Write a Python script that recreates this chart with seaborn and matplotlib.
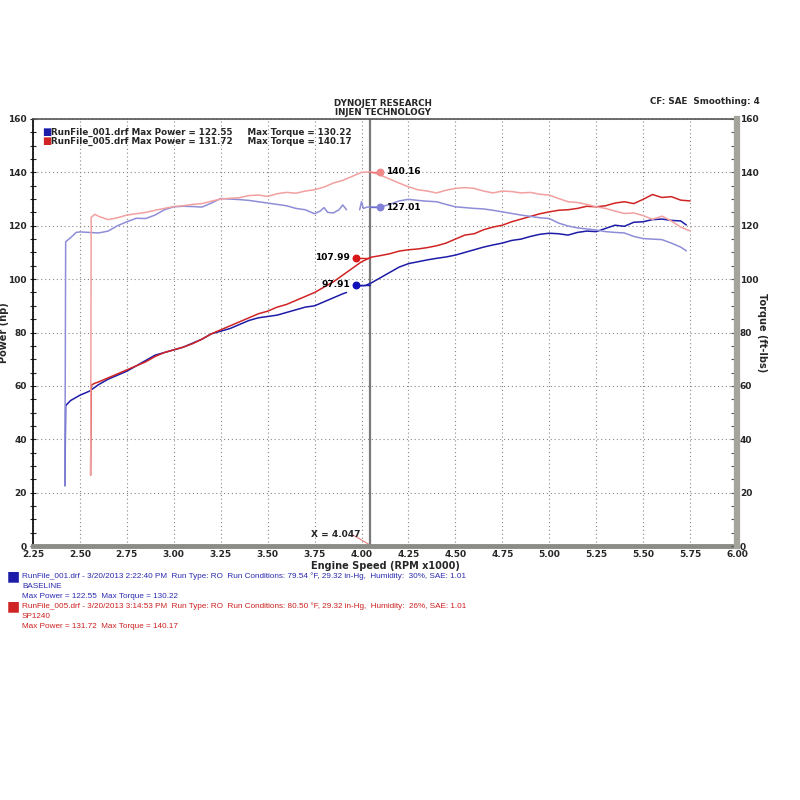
import pandas as pd
import numpy as np
import matplotlib.pyplot as plt
from matplotlib import font_manager
from matplotlib.ticker import MultipleLocator
import seaborn as sns

# ----------------------------------------------
# Dyno run data
# ----------------------------------------------
runs = ["RunFile_001.drf", "RunFile_005.drf"]

# Baseline power (two pieces, broken near the cursor)
base_power_rpm_a = [2.420, 2.424, 2.45, 2.50, 2.55, 2.60, 2.65, 2.70, 2.75, 2.80, 2.85, 2.90, 2.95,
                    3.00, 3.05, 3.10, 3.15, 3.20, 3.25, 3.30, 3.35, 3.40, 3.45, 3.50, 3.55, 3.60,
                    3.65, 3.70, 3.75, 3.80, 3.85, 3.90, 3.92]
base_power_hp_a = [22.6, 52.6, 54.5, 56.5, 58.0, 60.5, 62.5, 64.0, 65.5, 67.5, 69.5, 71.5, 72.5,
                   73.5, 74.5, 76.0, 77.5, 79.5, 80.5, 81.5, 83.0, 84.5, 85.5, 86.0, 86.5, 87.5,
                   88.5, 89.5, 90.0, 91.5, 93.0, 94.5, 95.0]
base_power_rpm_b = [3.99, 4.02, 4.05, 4.10, 4.15, 4.20, 4.25, 4.30, 4.35, 4.40, 4.45, 4.50, 4.55,
                    4.60, 4.65, 4.70, 4.75, 4.80, 4.85, 4.90, 4.95, 5.00, 5.05, 5.10, 5.15, 5.20,
                    5.25, 5.30, 5.35, 5.40, 5.45, 5.50, 5.55, 5.60, 5.65, 5.70, 5.73]
base_power_hp_b = [97.5, 97.6, 98.5, 100.5, 102.5, 104.5, 105.8, 106.5, 107.2, 107.8, 108.3, 109.0,
                   110.0, 111.0, 112.0, 112.8, 113.5, 114.5, 115.0, 116.0, 116.8, 117.2, 117.0,
                   116.5, 117.5, 118.0, 117.8, 119.0, 120.2, 119.8, 121.3, 121.5, 122.3, 122.5,
                   122.0, 121.8, 120.3]

# Baseline torque
base_torque_rpm_a = [2.420, 2.424, 2.45, 2.48, 2.50, 2.55, 2.60, 2.65, 2.70, 2.75, 2.80, 2.85, 2.90,
                     2.95, 3.00, 3.05, 3.10, 3.15, 3.20, 3.25, 3.30, 3.35, 3.40, 3.45, 3.50, 3.55,
                     3.60, 3.65, 3.70, 3.75, 3.78, 3.80, 3.82, 3.85, 3.88, 3.90, 3.92]
base_torque_a = [22.6, 114.0, 115.5, 117.5, 117.7, 117.5, 117.3, 118.0, 120.0, 121.5, 122.8, 122.7,
                 124.0, 126.0, 127.1, 127.3, 127.2, 127.0, 128.5, 130.2, 130.0, 129.8, 129.5, 129.0,
                 128.5, 128.0, 127.5, 126.5, 126.0, 124.5, 125.5, 126.8, 125.0, 124.8, 126.0,
                 127.8, 126.0]
base_torque_rpm_b = [3.99, 4.00, 4.01, 4.03, 4.10, 4.15, 4.20, 4.25, 4.30, 4.35, 4.40, 4.45, 4.50,
                     4.55, 4.60, 4.65, 4.70, 4.75, 4.80, 4.85, 4.90, 4.95, 5.00, 5.05, 5.10, 5.15,
                     5.20, 5.25, 5.30, 5.35, 5.40, 5.45, 5.50, 5.55, 5.60, 5.65, 5.70, 5.73]
base_torque_b = [126.0, 129.0, 126.5, 127.0, 127.0, 128.0, 129.3, 129.9, 129.5, 129.2, 129.0, 128.0,
                 127.1, 126.8, 126.5, 126.3, 125.8, 125.2, 124.6, 124.0, 123.5, 123.0, 122.7, 121.0,
                 119.9, 119.2, 118.8, 118.4, 117.8, 117.5, 117.3, 116.0, 115.2, 115.0, 114.8,
                 113.5, 112.0, 110.6]

# SP1240 run
sp_rpm = [2.557, 2.560, 2.58, 2.60, 2.65, 2.70, 2.75, 2.80, 2.85, 2.90, 2.95, 3.00, 3.05, 3.10,
          3.15, 3.20, 3.25, 3.30, 3.35, 3.40, 3.45, 3.50, 3.55, 3.60, 3.65, 3.70, 3.75, 3.80,
          3.85, 3.90, 3.95, 4.00, 4.05, 4.10, 4.15, 4.20, 4.25, 4.30, 4.35, 4.40, 4.45, 4.50,
          4.55, 4.60, 4.65, 4.70, 4.75, 4.80, 4.85, 4.90, 4.95, 5.00, 5.05, 5.10, 5.15, 5.20,
          5.25, 5.30, 5.35, 5.40, 5.45, 5.50, 5.55, 5.60, 5.65, 5.70, 5.75]
sp_power = [26.6, 60.3, 61.0, 61.5, 63.0, 64.5, 66.0, 67.5, 69.0, 71.0, 72.5, 73.5, 74.5, 75.8,
            77.5, 79.5, 81.0, 82.5, 84.0, 85.5, 87.0, 88.0, 89.5, 90.5, 92.0, 93.5, 95.0, 97.0,
            99.0, 101.5, 104.0, 106.5, 108.2, 108.8, 109.5, 110.5, 111.0, 111.3, 111.8, 112.5,
            113.5, 115.0, 116.5, 117.0, 118.5, 119.5, 120.2, 121.5, 122.5, 123.5, 124.5, 125.2,
            125.8, 126.0, 126.5, 127.3, 127.1, 127.5, 128.5, 129.0, 128.3, 129.9, 131.7, 130.6,
            130.9, 129.6, 129.3]
sp_torque = [26.6, 123.2, 124.3, 123.5, 122.3, 123.0, 124.0, 124.5, 125.0, 125.8, 126.5, 127.2,
             127.5, 128.0, 128.3, 129.2, 130.0, 130.3, 130.5, 131.3, 131.5, 131.0, 132.0, 132.5,
             132.2, 133.0, 133.5, 134.5, 136.0, 137.0, 138.5, 140.0, 140.2, 139.0, 137.5, 136.0,
             134.6, 133.5, 133.0, 132.3, 133.3, 134.0, 134.3, 134.0, 133.0, 132.3, 133.0, 132.8,
             132.3, 132.5, 131.8, 131.5, 130.2, 129.0, 128.7, 128.0, 127.1, 126.5, 125.5, 124.6,
             124.8, 123.8, 122.4, 123.6, 121.8, 119.5, 118.1]

# cursor readouts
cursor_x = 4.047
power_marks = [97.91, 107.99]
torque_marks = [127.01, 140.16]

# ----------------------------------------------
# Build long tables
# ----------------------------------------------
power_df = pd.concat([
    pd.DataFrame({"rpm": base_power_rpm_a, "val": base_power_hp_a, "run": runs[0], "seg": 0}),
    pd.DataFrame({"rpm": base_power_rpm_b, "val": base_power_hp_b, "run": runs[0], "seg": 1}),
    pd.DataFrame({"rpm": sp_rpm, "val": sp_power, "run": runs[1], "seg": 2}),
])
torque_df = pd.concat([
    pd.DataFrame({"rpm": base_torque_rpm_a, "val": base_torque_a, "run": runs[0], "seg": 0}),
    pd.DataFrame({"rpm": base_torque_rpm_b, "val": base_torque_b, "run": runs[0], "seg": 1}),
    pd.DataFrame({"rpm": sp_rpm, "val": sp_torque, "run": runs[1], "seg": 2}),
])

BLUE = "#1c1ca8"
RED = "#d02424"
LBLUE = "#8e8ed8"
LRED = "#f2a0a0"

sns.set_style("white")
plt.rcParams["font.family"] = ["DejaVu Sans"]

# narrow face for the run details, if it is there
names = {f.name for f in font_manager.fontManager.ttflist}
if "Liberation Sans Narrow" in names:
    info_font, info_size = "Liberation Sans Narrow", 7.0
else:
    info_font, info_size = "Liberation Sans", 5.9

fig = plt.figure(figsize=(8, 8), dpi=100)
ax = fig.add_axes([0.04125, 0.3175, 0.88, 0.53375])
ax2 = ax.twinx()

sns.lineplot(data=power_df, x="rpm", y="val", hue="run", units="seg", estimator=None,
             sort=False, palette={runs[0]: BLUE, runs[1]: RED}, lw=1.1, legend=False, ax=ax)
sns.lineplot(data=torque_df, x="rpm", y="val", hue="run", units="seg", estimator=None,
             sort=False, palette={runs[0]: LBLUE, runs[1]: LRED}, lw=1.1, legend=False, ax=ax2)

for a in (ax, ax2):
    a.set_xlim(2.25, 6.0)
    a.set_ylim(0, 160)

# cursor
ax.axvline(cursor_x, color="#7a7a7a", lw=1.6, zorder=1)
ax.plot([3.97, cursor_x], [power_marks[0], power_marks[0]], color=BLUE, lw=1)
ax.plot([3.97, cursor_x], [power_marks[1], power_marks[1]], color=RED, lw=1)
ax.scatter([3.97], [power_marks[0]], color="#1010b8", s=22, zorder=5)
ax.scatter([3.97], [power_marks[1]], color="#d81818", s=22, zorder=5)
ax2.plot([cursor_x, 4.10], [torque_marks[0], torque_marks[0]], color="#6a6ad0", lw=1)
ax2.plot([cursor_x, 4.10], [torque_marks[1], torque_marks[1]], color="#f07070", lw=1)
ax2.scatter([4.10], [torque_marks[0]], color="#8080d8", s=22, zorder=5)
ax2.scatter([4.10], [torque_marks[1]], color="#f08a8a", s=22, zorder=5)
lab = dict(fontsize=6.5, fontweight="bold", color="black", va="center")
ax.text(3.94, power_marks[0], f"{power_marks[0]:.2f}", ha="right", **lab)
ax.text(3.94, power_marks[1], f"{power_marks[1]:.2f}", ha="right", **lab)
ax2.text(4.13, torque_marks[0], f"{torque_marks[0]:.2f}", ha="left", **lab)
ax2.text(4.13, torque_marks[1], f"{torque_marks[1]:.2f}", ha="left", **lab)
ax.text(3.995, 3.3, f"X = {cursor_x:.3f}", ha="right", fontsize=6.5, fontweight="bold")
ax.plot([3.95, cursor_x], [4.3, 0.3], color="#e07070", lw=0.7)

# axes styling
ax.xaxis.set_minor_locator(MultipleLocator(0.05))
ax.yaxis.set_major_locator(MultipleLocator(20))
ax.yaxis.set_minor_locator(MultipleLocator(5))
ax2.yaxis.set_major_locator(MultipleLocator(20))
ax2.yaxis.set_minor_locator(MultipleLocator(5))
ax.set_xticks(np.arange(2.25, 6.01, 0.25))
ax.set_xticklabels([f"{v:.2f}" for v in np.arange(2.25, 6.01, 0.25)])
ax.grid(True, which="major", ls=(0, (1, 2.5)), color="#888888", lw=0.8)
ax.tick_params(axis="x", which="both", direction="in", length=4, width=0.8, color="#555555",
               labelsize=6.5, pad=3)
ax.tick_params(axis="y", which="both", direction="inout", length=5, width=0.8,
               labelsize=6.5, pad=2)
ax2.tick_params(axis="y", which="both", direction="in", length=4, width=0.8, color="#555555",
                labelsize=6.5, pad=2)
for t in ax.get_xticklabels() + ax.get_yticklabels() + ax2.get_yticklabels():
    t.set_fontweight("bold")

ax.spines["left"].set_color("black")
ax.spines["left"].set_linewidth(1.2)
ax.spines["top"].set_color("#555555")
ax.spines["top"].set_linewidth(1.2)
ax.spines["bottom"].set_color("#8c8c86")
ax.spines["bottom"].set_linewidth(3.5)
ax2.spines["right"].set_color("#a4a49c")
ax2.spines["right"].set_linewidth(4.5)
for s in ("left", "top", "bottom"):
    ax2.spines[s].set_visible(False)
ax.spines["right"].set_visible(False)

ax.set_xlabel("Engine Speed (RPM x1000)", fontsize=7, fontweight="bold")
ax.xaxis.set_label_coords(0.5, -0.035)
ax.set_ylabel("Power (hp)", fontsize=7, fontweight="bold")
ax.yaxis.set_label_coords(-0.034, 0.5)
ax2.set_ylabel("Torque (ft-lbs)", fontsize=7, fontweight="bold", rotation=-90, va="center")
ax2.yaxis.set_label_coords(1.036, 0.5)

# in-plot legend
fig.text(0.0525, 1 - 132 / 800, "\u25a0", color=BLUE, fontsize=7, va="center")
fig.text(0.0525, 1 - 141 / 800, "\u25a0", color=RED, fontsize=7, va="center")
fig.text(0.064, 1 - 132 / 800, "RunFile_001.drf Max Power = 122.55     Max Torque = 130.22",
         fontsize=6.3, fontweight="bold", va="center")
fig.text(0.064, 1 - 141 / 800, "RunFile_005.drf Max Power = 131.72     Max Torque = 140.17",
         fontsize=6.3, fontweight="bold", va="center")

# header
fig.text(0.479, 1 - 103 / 800, "DYNOJET RESEARCH", fontsize=6.3, fontweight="bold", ha="center",
         va="center")
fig.text(0.479, 1 - 112.5 / 800, "INJEN TECHNOLOGY", fontsize=6.3, fontweight="bold", ha="center",
         va="center")
fig.text(0.95, 1 - 101 / 800, "CF: SAE  Smoothing: 4", fontsize=6.3, fontweight="bold",
         ha="right", va="center")

# run details under the chart
fig.text(0.008, 1 - 576 / 800, "\u25a0", color=BLUE, fontsize=10, va="center")
fig.text(0.008, 1 - 606 / 800, "\u25a0", color=RED, fontsize=10, va="center")
blue_lines = ["RunFile_001.drf - 3/20/2013 2:22:40 PM  Run Type: RO  Run Conditions: 79.54 \u00b0F, "
              "29.32 in-Hg,  Humidity:  30%, SAE: 1.01", "BASELINE",
              "Max Power = 122.55  Max Torque = 130.22"]
red_lines = ["RunFile_005.drf - 3/20/2013 3:14:53 PM  Run Type: RO  Run Conditions: 80.50 \u00b0F, "
             "29.32 in-Hg,  Humidity:  26%, SAE: 1.01", "SP1240",
             "Max Power = 131.72  Max Torque = 140.17"]
for i, line in enumerate(blue_lines):
    fig.text(0.0275, 1 - (576 + 10.5 * i) / 800, line, color="#2a2ab0", fontsize=info_size,
             family=info_font, va="center")
for i, line in enumerate(red_lines):
    fig.text(0.0275, 1 - (606 + 10.5 * i) / 800, line, color="#cc2020", fontsize=info_size,
             family=info_font, va="center")

fig.savefig("out.png", dpi=100, facecolor="white")
